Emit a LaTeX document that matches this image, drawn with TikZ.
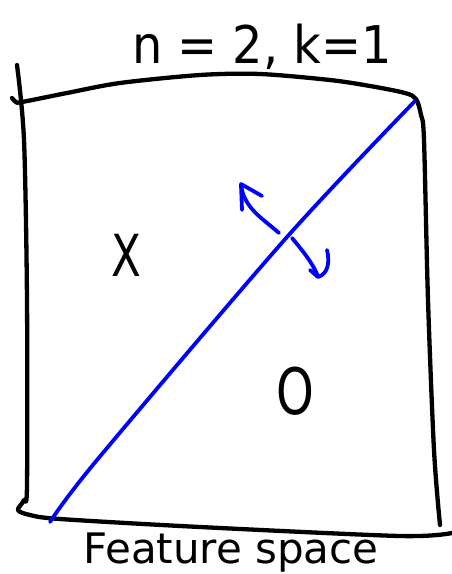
\documentclass[tikz,border=0pt]{standalone}
\usepackage{fontspec}
\setmainfont{DejaVu Sans}
\usepackage{graphicx}

\begin{document}
\begin{tikzpicture}[x=1pt,y=-1pt,
pen/.style={line width=4.3pt,line cap=round,line join=round},
bluepen/.style={blue,line width=3.8pt,line cap=round,line join=round}]

\useasboundingbox (0,0) rectangle (452,574);

% Feature space box
\draw[pen] plot[smooth] coordinates {(17,65) (24,140) (27,300) (27,485) (24,500)
  (18,510) (30,515) (60,519) (200,527) (400,536) (452,533)};
\draw[pen] plot[smooth] coordinates {(12,98) (16,102) (22,102) (67,93) (120,83)
  (200,75) (260,74) (330,80) (370,86) (405,93) (416,99) (421,115) (424,140)
  (428,300) (434,450) (440,525)};

% Decision boundary
\draw[bluepen] plot[smooth] coordinates {(50,522) (97,460) (287,237) (415,101)};

% Normal direction
\draw[bluepen] (279,233) .. controls (262,218) and (244,208) .. (241,185);
\draw[bluepen] (242,210) -- (241,184) -- (262,196);
\draw[bluepen] (292,238) .. controls (302,250) and (312,262) .. (318,276);
\draw[bluepen] (310,270) -- (318,277) .. controls (328,274) and (330,262) .. (327,250);

% Labels
\node[anchor=base] (title) at (262,63) {\fontsize{52}{54}\selectfont\scalebox{0.92}[1]{n = 2, k=1}};
\node (cross) at (126,255) {\fontsize{58}{60}\selectfont\scalebox{0.75}[1]{X}};
\node (circle) at (295,391) {\fontsize{64}{66}\selectfont\scalebox{0.75}[1]{O}};
\node[anchor=base] (caption) at (231,563) {\fontsize{42}{44}\selectfont Feature space};

\end{tikzpicture}
\end{document}
